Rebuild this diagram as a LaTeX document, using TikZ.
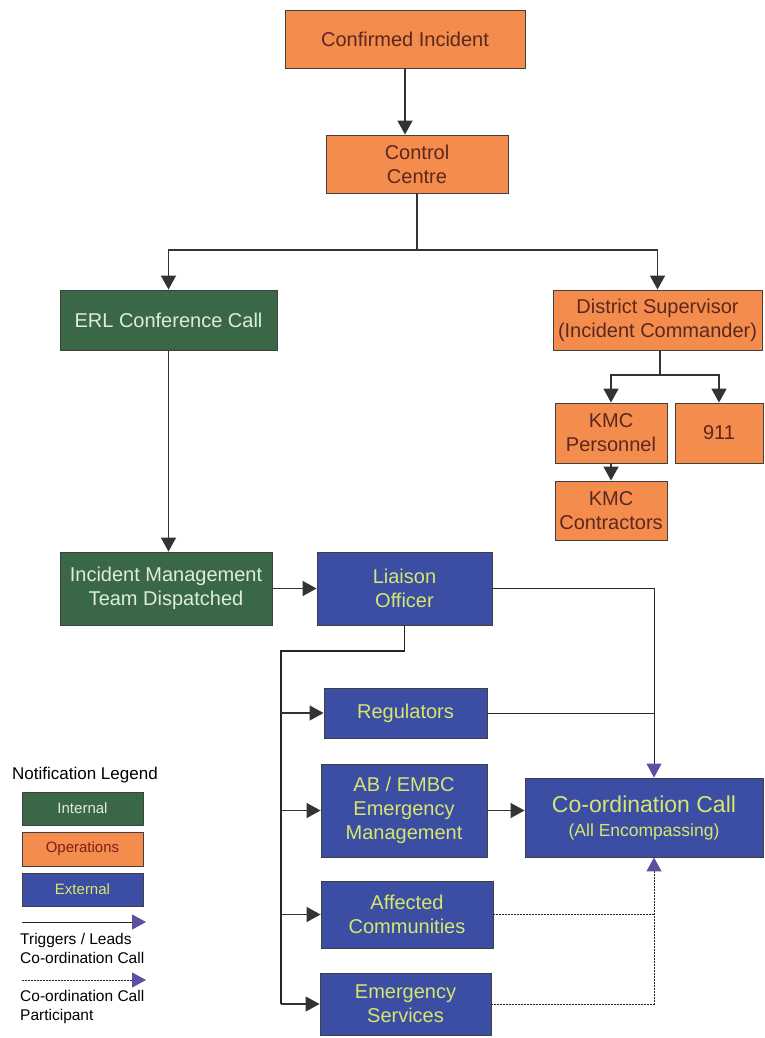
\documentclass[tikz,border=0pt]{standalone}
\usepackage{fontspec}
\setmainfont{Liberation Sans}
\usetikzlibrary{arrows.meta,positioning}

\definecolor{opsorange}{RGB}{244,140,78}
\definecolor{intgreen}{RGB}{58,104,70}
\definecolor{extblue}{RGB}{60,78,164}
\definecolor{opstext}{RGB}{90,40,30}
\definecolor{inttext}{RGB}{222,236,220}
\definecolor{exttext}{RGB}{214,230,110}
\definecolor{callpurple}{RGB}{92,80,160}

\begin{document}
\begin{tikzpicture}[
  x=1pt, y=-1pt,
  box/.style={draw=black!75, line width=0.9pt, align=center, inner sep=2pt,
    font=\fontsize{20}{24}\selectfont},
  ops/.style={box, fill=opsorange, text=opstext},
  internal/.style={box, fill=intgreen, text=inttext},
  external/.style={box, fill=extblue, text=exttext},
  flow/.style={draw=black!80, line width=1.6pt, -{Triangle[length=14pt,width=15pt]}},
  feed/.style={draw=black!85, line width=1pt},
  trig/.style={feed, -{Triangle[length=14pt,width=15pt,fill=callpurple,color=callpurple]}},
  part/.style={trig, dash pattern=on 2pt off 1pt},
  legbox/.style={minimum width=121pt, font=\fontsize{15}{18}\selectfont},
  legtext/.style={anchor=west, align=left, inner sep=0pt, font=\fontsize{15.5}{19}\selectfont}
]
\useasboundingbox (0,0) rectangle (764,1038);

% Operations side
\node[ops, minimum width=240pt, minimum height=58pt] (conf) at (405,39) {Confirmed Incident};
\node[ops, minimum width=182pt, minimum height=58pt] (ctrl) at (417,164) {Control\\Centre};
\node[internal, minimum width=217pt, minimum height=60pt] (erl) at (168.5,320) {ERL Conference Call};
\node[ops, minimum width=209pt, minimum height=60pt] (dist) at (657.5,320) {District Supervisor\\(Incident Commander)};
\node[ops, minimum width=112pt, minimum height=60pt] (kmcp) at (611,433) {KMC\\Personnel};
\node[ops, minimum width=88pt, minimum height=60pt] (nine) at (719,433) {911};
\node[ops, minimum width=112pt, minimum height=59pt] (kmcc) at (611,510.5) {KMC\\Contractors};

% Response side
\node[internal, minimum width=212pt, minimum height=73pt] (imt) at (166,588.5) {Incident Management\\Team Dispatched};
\node[external, minimum width=175pt, minimum height=73pt] (liaison) at (404.5,588.5) {Liaison\\Officer};
\node[external, minimum width=163pt, minimum height=50pt] (reg) at (405.5,713) {Regulators};
\node[external, minimum width=166pt, minimum height=93pt] (embc) at (404,810.5) {AB / EMBC\\Emergency\\Management};
\node[external, minimum width=172pt, minimum height=67pt] (affect) at (407,914.5) {Affected\\Communities};
\node[external, minimum width=171pt, minimum height=62pt] (emerg) at (405.5,1004) {Emergency\\Services};
\node[external, minimum width=238pt, minimum height=79pt, font=\fontsize{23}{27}\selectfont] (coord) at (644,817.5)
  {Co-ordination Call\\[-3pt]{\fontsize{17.5}{20}\selectfont(All Encompassing)}};

% Connectors
\draw[flow] (conf.south) -- (conf.south |- ctrl.north);
\coordinate (split) at (417,250);
\draw[flow] (ctrl.south) -- (split) -| (erl.north);
\draw[flow] (split) -| (dist.north);
\coordinate (dsplit) at (660,375);
\draw[flow] (dist.south -| dsplit) -- (dsplit) -| (kmcp.north);
\draw[flow] (dsplit) -| (nine.north);
\draw[flow] (kmcp.south) -- (kmcc.north);
\draw[flow] (erl.south) -- (erl.south |- imt.north);
\draw[flow] (imt.east) -- (liaison.west);

\coordinate (bus) at (281,651);
\coordinate (callin) at ([xshift=10pt]coord.north);
\coordinate (callout) at ([xshift=10pt]coord.south);
\draw[feed, line width=1.3pt] (liaison.south) |- (bus) -- (bus |- emerg.west);
\foreach \n in {reg,embc,affect,emerg}
  \draw[flow, line width=1.3pt] (bus |- \n.west) -- (\n.west);

\draw[trig] (liaison.east) -| (callin);
\draw[feed] (reg.east) -- (reg.east -| callin);
\draw[flow, line width=1.3pt] (embc.east) -- (embc.east -| coord.west);
\draw[part] (emerg.east) -| (callout);
\draw[feed, dash pattern=on 2pt off 1pt] (affect.east) -- (affect.east -| callout);

% Legend
\node[legtext, font=\fontsize{17}{20}\selectfont] (legtitle) at (12,775) {Notification Legend};
\node[internal, legbox, minimum height=33pt] (legint) at (82.5,808.5) {Internal};
\node[ops, legbox, minimum height=34pt, text=opstext!80!red] (legops) at (82.5,849) {Operations};
\node[external, legbox, minimum height=33pt] (legext) at (82.5,889.5) {External};
\coordinate (lt1) at (22,922);
\coordinate (lt2) at (146,922);
\draw[trig] (lt1) -- (lt2);
\node[legtext] (trigtext) at (20,948) {Triggers / Leads\\Co-ordination Call};
\coordinate (lp1) at (22,980);
\coordinate (lp2) at (146,980);
\draw[part] (lp1) -- (lp2);
\node[legtext] (parttext) at (20,1007) {Co-ordination Call\\Participant};
\end{tikzpicture}
\end{document}
